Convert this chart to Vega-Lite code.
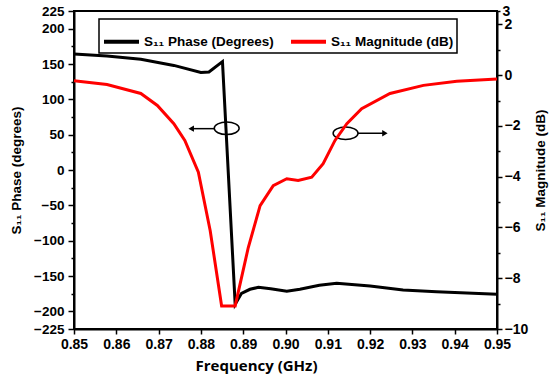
{
  "$schema": "https://vega.github.io/schema/vega-lite/v6.json",
  "autosize": {"type": "none"},
  "padding": {"left": 74, "top": 11, "right": 53, "bottom": 57},
  "width": 423,
  "height": 318,
  "background": "white",
  "datasets": {
    "phase": [
      {"f": 0.85, "v": 164}, {"f": 0.8578, "v": 161.3}, {"f": 0.8658, "v": 156.6}, {"f": 0.8736, "v": 148},
      {"f": 0.88, "v": 138}, {"f": 0.8819, "v": 138.7}, {"f": 0.8851, "v": 153.3}, {"f": 0.8881, "v": -190},
      {"f": 0.8896, "v": -174.5}, {"f": 0.8916, "v": -168.8}, {"f": 0.8936, "v": -166}, {"f": 0.8965, "v": -168},
      {"f": 0.9003, "v": -171.5}, {"f": 0.9034, "v": -168.8}, {"f": 0.908, "v": -163}, {"f": 0.9121, "v": -160.3},
      {"f": 0.92, "v": -164.1}, {"f": 0.9278, "v": -169.8}, {"f": 0.9357, "v": -172.2}, {"f": 0.95, "v": -175.9}
    ],
    "mag": [
      {"f": 0.85, "v": -0.22}, {"f": 0.8578, "v": -0.37}, {"f": 0.8658, "v": -0.72}, {"f": 0.8697, "v": -1.19},
      {"f": 0.8736, "v": -1.91}, {"f": 0.8762, "v": -2.57}, {"f": 0.8794, "v": -3.82}, {"f": 0.8822, "v": -6.13},
      {"f": 0.8849, "v": -9.09}, {"f": 0.8881, "v": -9.09}, {"f": 0.8912, "v": -6.79}, {"f": 0.894, "v": -5.14},
      {"f": 0.8971, "v": -4.35}, {"f": 0.9003, "v": -4.08}, {"f": 0.903, "v": -4.15}, {"f": 0.9062, "v": -4.02},
      {"f": 0.9089, "v": -3.49}, {"f": 0.9117, "v": -2.57}, {"f": 0.9145, "v": -1.91}, {"f": 0.918, "v": -1.32},
      {"f": 0.9247, "v": -0.72}, {"f": 0.9326, "v": -0.4}, {"f": 0.9405, "v": -0.24}, {"f": 0.95, "v": -0.15}
    ],
    "ellipses": [
      {"f": 0.8861, "v": 59},
      {"f": 0.9142, "v": 52}
    ],
    "arrows": [
      {"f": 0.8833, "f2": 0.8777, "v": 58.5},
      {"f": 0.9171, "f2": 0.9235, "v": 52}
    ],
    "heads": [
      {"f": 0.8777, "v": 58.5, "dir": "left"},
      {"f": 0.9235, "v": 52, "dir": "right"}
    ]
  },
  "config": {
    "view": {"stroke": "black", "strokeWidth": 2},
    "axis": {
      "grid": false,
      "domainColor": "black",
      "domainWidth": 2,
      "tickColor": "black",
      "tickWidth": 1.5,
      "labelColor": "black",
      "labelFont": "Liberation Sans",
      "labelFontWeight": "bold",
      "titleFont": "Liberation Sans",
      "titleFontWeight": "bold",
      "titleColor": "black",
      "labelOverlap": false,
      "labelFlush": false
    },
    "legend": {
      "strokeWidth": 1.5
    }
  },
  "encoding": {
    "x": {
      "field": "f",
      "type": "quantitative",
      "scale": {"domain": [0.85, 0.95], "nice": false, "zero": false},
      "axis": {
        "title": "Frequency (GHz)",
        "values": [0.85, 0.86, 0.87, 0.88, 0.89, 0.9, 0.91, 0.92, 0.93, 0.94, 0.95],
        "format": ".2f",
        "labelFontSize": 14,
        "tickSize": 5,
        "labelPadding": 3,
        "titleFont": "Open Sans",
        "titleFontSize": 15,
        "titleAlign": "center",
        "titleX": 182,
        "titlePadding": 7
      }
    }
  },
  "layer": [
    {
      "data": {"name": "phase"},
      "mark": {"type": "line", "strokeWidth": 3},
      "encoding": {
        "y": {
          "field": "v",
          "type": "quantitative",
          "scale": {"domain": [-225, 225], "nice": false, "zero": false},
          "axis": {
            "title": "S₁₁ Phase (degrees)",
            "orient": "left",
            "values": [-225, -200, -175, -150, -125, -100, -75, -50, -25, 0, 25, 50, 75, 100, 125, 150, 175, 200, 225],
            "labelExpr": "(abs(datum.value) == 225 || datum.value % 50 == 0) ? datum.label : ''",
            "tickSize": {"condition": {"test": "abs(datum.value) != 225 && datum.value % 50 != 0", "value": 3}, "value": 6},
            "labelFontSize": 13.5,
            "labelPadding": 4,
            "titleFontSize": 13.5,
            "titlePadding": 10
          }
        },
        "color": {
          "datum": "S₁₁ Phase (Degrees)",
          "type": "nominal",
          "scale": {"domain": ["S₁₁ Phase (Degrees)", "S₁₁ Magnitude (dB)"], "range": ["black", "#ff0000"]},
          "legend": {
            "title": null,
            "orient": "none",
            "legendX": 25,
            "legendY": 8,
            "direction": "horizontal",
            "strokeColor": "black",
            "fillColor": "white",
            "padding": 3,
            "symbolType": "stroke",
            "symbolSize": 1225,
            "symbolStrokeWidth": 4,
            "labelFont": "Liberation Sans",
            "labelFontWeight": "bold",
            "labelFontSize": 13.5,
            "labelColor": "black",
            "labelOffset": 3,
            "columnPadding": 9,
            "labelLimit": 300
          }
        }
      }
    },
    {
      "data": {"name": "arrows"},
      "mark": {"type": "rule", "color": "black", "strokeWidth": 1.5},
      "encoding": {
        "x2": {"field": "f2"},
        "y": {"field": "v", "type": "quantitative", "scale": {"domain": [-225, 225], "nice": false, "zero": false}, "axis": null}
      }
    },
    {
      "data": {"name": "ellipses"},
      "mark": {
        "type": "point",
        "shape": "M-1,0A1,0.5,0,1,1,1,0A1,0.5,0,1,1,-1,0Z",
        "size": 620,
        "filled": false,
        "color": "black",
        "strokeWidth": 1.5,
        "opacity": 1
      },
      "encoding": {
        "y": {"field": "v", "type": "quantitative", "scale": {"domain": [-225, 225], "nice": false, "zero": false}, "axis": null}
      }
    },
    {
      "data": {"name": "heads"},
      "mark": {"type": "point", "filled": true, "color": "black", "size": 40, "opacity": 1},
      "encoding": {
        "y": {"field": "v", "type": "quantitative", "scale": {"domain": [-225, 225], "nice": false, "zero": false}, "axis": null},
        "shape": {
          "field": "dir",
          "type": "nominal",
          "scale": {"domain": ["left", "right"], "range": ["triangle-left", "triangle-right"]},
          "legend": null
        }
      }
    },
    {
      "data": {"name": "mag"},
      "mark": {"type": "line", "strokeWidth": 3},
      "encoding": {
        "y": {
          "field": "v",
          "type": "quantitative",
          "scale": {"domain": [-10, 2.53], "nice": false, "zero": false},
          "axis": {
            "title": "S₁₁ Magnitude (dB)",
            "orient": "right",
            "values": [-10, -9, -8, -7, -6, -5, -4, -3, -2, -1, 0, 1, 2, 2.53],
            "labelExpr": "datum.value == 2.53 ? '3' : (datum.value % 2 == 0 ? datum.label : '')",
            "tickSize": {"condition": {"test": "datum.value % 2 != 0", "value": 3}, "value": 5},
            "labelFontSize": 14,
            "labelPadding": 2,
            "titleFontSize": 13.5,
            "titleAngle": -90,
            "titleBaseline": "top",
            "titlePadding": 6
          }
        },
        "color": {"datum": "S₁₁ Magnitude (dB)", "type": "nominal"}
      }
    }
  ],
  "resolve": {"scale": {"y": "independent"}}
}
